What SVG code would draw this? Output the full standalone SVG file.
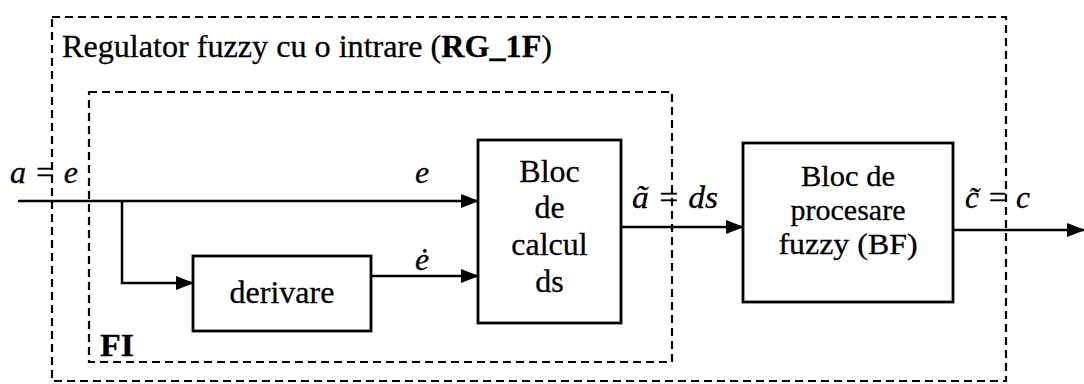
<svg xmlns="http://www.w3.org/2000/svg" width="1084" height="384" viewBox="0 0 1084 384">
<style>
.dash{fill:none;stroke:#000;stroke-width:2.2;stroke-dasharray:8 5}
.box{fill:#fff;stroke:#000;stroke-width:2.8}
.ln{fill:none;stroke:#000;stroke-width:2.5}
.t{font-family:'Liberation Serif','Times New Roman',serif;font-size:32px;fill:#000;stroke:#000;stroke-width:0.3}
.i{font-style:italic}
.m{text-anchor:middle}
.bf{font-size:30px}
</style>
<defs>
<marker id="ar" markerWidth="18" markerHeight="14" refX="17" refY="7" orient="auto" markerUnits="userSpaceOnUse">
<path d="M0,0 L18,7 L0,14 Z" fill="#000"/>
</marker>
</defs>
<rect width="1084" height="384" fill="#fff"/>
<g id="outer">
<rect class="dash" x="52" y="17" width="954" height="364"/>
<text class="t" x="62" y="57" textLength="490" lengthAdjust="spacingAndGlyphs">Regulator fuzzy cu o intrare (<tspan font-weight="bold">RG_1F</tspan>)</text>
</g>
<g id="FI">
<rect class="dash" x="89" y="92" width="583" height="270"/>
<text class="t" x="100" y="356" font-weight="bold" textLength="34" lengthAdjust="spacingAndGlyphs">FI</text>
</g>
<g id="connectors">
<line class="ln" x1="18" y1="201" x2="478" y2="201" marker-end="url(#ar)"/>
<polyline class="ln" points="122,201 122,283 193,283" marker-end="url(#ar)"/>
<line class="ln" x1="371" y1="276" x2="478" y2="276" marker-end="url(#ar)"/>
<line class="ln" x1="621" y1="227" x2="743" y2="227" marker-end="url(#ar)"/>
<line class="ln" x1="953" y1="230" x2="1084" y2="230" marker-end="url(#ar)"/>
<text class="t i" x="10" y="183" textLength="68" lengthAdjust="spacingAndGlyphs">a = e</text>
<text class="t i" x="415" y="183">e</text>
<text class="t i" x="415" y="270">ė</text>
<text class="t i" x="632" y="208" textLength="86" lengthAdjust="spacingAndGlyphs">ã = ds</text>
<text class="t i" x="965" y="208" textLength="65" lengthAdjust="spacingAndGlyphs">c̃ = c</text>
</g>
<g id="derivare">
<rect class="box" x="193" y="256" width="178" height="75"/>
<text class="t m" x="282" y="303" font-size="34">derivare</text>
</g>
<g id="calcul">
<rect class="box" x="478" y="140" width="143" height="183"/>
<text class="t m" x="549.5" y="182">Bloc</text>
<text class="t m" x="549.5" y="218">de</text>
<text class="t m" x="549.5" y="255">calcul</text>
<text class="t m" x="549.5" y="292">ds</text>
</g>
<g id="BF">
<rect class="box" x="743" y="143" width="210" height="159"/>
<text class="t m bf" x="848" y="186" textLength="94" lengthAdjust="spacingAndGlyphs">Bloc de</text>
<text class="t m bf" x="848" y="220">procesare</text>
<text class="t m bf" x="848" y="254" textLength="139" lengthAdjust="spacingAndGlyphs">fuzzy (BF)</text>
</g>
</svg>
